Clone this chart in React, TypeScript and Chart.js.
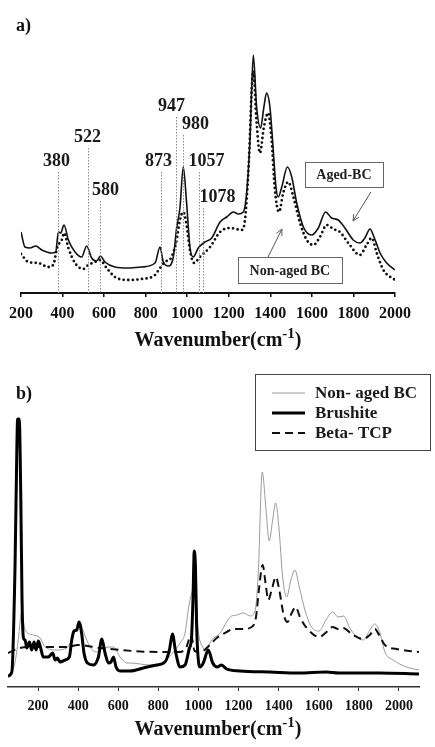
import { useEffect, useRef } from "react";
import { Chart, registerables } from "chart.js";

Chart.register(...registerables);

const SERIF = '"Liberation Serif", "Times New Roman", serif';

// ---- Panel a: Raman spectra of aged and non-aged bone char ----
const agedWavenumber = [200, 219, 243, 271, 300, 348, 367, 380, 391, 407, 428, 460, 492, 516, 540, 564, 582, 604, 652, 716, 781, 845, 869, 885, 909, 933, 949, 965, 981, 997, 1013, 1029, 1053, 1085, 1118, 1158, 1190, 1222, 1246, 1270, 1286, 1302, 1318, 1334, 1353, 1369, 1382, 1398, 1414, 1427, 1438, 1455, 1482, 1503, 1527, 1559, 1599, 1631, 1666, 1695, 1727, 1759, 1799, 1831, 1855, 1880, 1899, 1928, 1960, 2000];
const agedIntensity = [61, 46, 45, 47, 43, 40, 41, 61, 60, 68, 53, 41, 36, 47, 35, 32, 37, 31, 26, 25, 26, 30, 46, 31, 27, 36, 65, 85, 126, 90, 46, 36, 45, 51, 55, 71, 76, 81, 79, 81, 100, 153, 238, 186, 165, 186, 200, 186, 143, 106, 96, 106, 126, 116, 90, 66, 58, 65, 81, 75, 73, 65, 53, 50, 55, 64, 56, 40, 30, 23];

const nonAgedWavenumberA = [200, 235, 283, 331, 355, 375, 396, 408, 428, 460, 500, 524, 556, 580, 612, 652, 716, 781, 845, 869, 893, 925, 949, 965, 981, 997, 1013, 1033, 1061, 1110, 1158, 1206, 1262, 1278, 1294, 1318, 1334, 1350, 1369, 1390, 1406, 1422, 1442, 1462, 1486, 1511, 1543, 1575, 1607, 1639, 1671, 1703, 1735, 1775, 1831, 1863, 1888, 1912, 1944, 2000];
const nonAgedIntensityA = [39, 31, 30, 26, 28, 46, 53, 60, 45, 30, 24, 28, 31, 33, 25, 16, 13, 14, 18, 25, 31, 36, 53, 73, 81, 68, 43, 30, 36, 46, 61, 65, 63, 73, 120, 222, 170, 140, 166, 180, 153, 103, 81, 100, 111, 96, 70, 53, 48, 56, 68, 64, 61, 50, 38, 48, 55, 40, 23, 13];

const ticksA = [200, 400, 600, 800, 1000, 1200, 1400, 1600, 1800, 2000];

// Band assignments marked on panel a
const bandPositions = [380, 522, 580, 873, 947, 980, 1057, 1078];

// ---- Panel b: reference spectra ----
const nonAgedWavenumberB = [50, 80, 100, 118, 135, 177, 210, 235, 293, 343, 368, 393, 409, 429, 459, 493, 526, 576, 609, 643, 659, 758, 825, 875, 908, 933, 949, 966, 980, 1000, 1024, 1035, 1066, 1108, 1158, 1191, 1224, 1258, 1283, 1299, 1318, 1337, 1353, 1370, 1385, 1401, 1420, 1440, 1461, 1481, 1503, 1531, 1564, 1602, 1636, 1669, 1697, 1725, 1752, 1789, 1822, 1855, 1880, 1905, 1930, 1971, 2038, 2100];
const nonAgedIntensityB = [12, 20, 45, 74, 57, 52, 49, 40, 37, 39, 47, 60, 64, 54, 40, 35, 39, 40, 30, 24, 24, 22, 25, 35, 44, 54, 77, 94, 100, 54, 39, 37, 47, 54, 70, 72, 74, 71, 77, 117, 215, 177, 146, 167, 184, 160, 110, 90, 107, 117, 100, 77, 60, 56, 67, 75, 70, 71, 60, 50, 47, 57, 63, 54, 35, 27, 20, 17];

const brushiteWavenumber = [50, 69, 85, 94, 98, 106, 114, 120, 127, 135, 144, 157, 168, 180, 190, 201, 213, 226, 251, 273, 285, 296, 310, 335, 356, 368, 379, 393, 404, 417, 429, 446, 476, 501, 518, 534, 551, 564, 576, 589, 609, 659, 725, 792, 833, 855, 870, 887, 908, 933, 955, 965, 973, 979, 985, 991, 998, 1008, 1024, 1049, 1071, 1094, 1115, 1140, 1207, 1356, 1500, 1637, 1700, 1900, 2100];
const brushiteIntensity = [11, 15, 120, 237, 268, 268, 187, 87, 49, 47, 39, 45, 37, 45, 37, 46, 39, 30, 30, 34, 27, 29, 25, 27, 30, 47, 56, 57, 65, 54, 34, 24, 22, 30, 48, 34, 24, 25, 30, 20, 16, 16, 19, 22, 25, 37, 53, 34, 20, 22, 39, 48, 90, 136, 120, 60, 30, 20, 24, 37, 24, 20, 22, 18, 16, 15, 14, 15, 14, 14, 13];

const betaTcpWavenumber = [50, 110, 177, 343, 400, 510, 675, 800, 908, 940, 963, 981, 1010, 1057, 1091, 1141, 1174, 1224, 1265, 1287, 1303, 1320, 1337, 1348, 1365, 1386, 1403, 1423, 1443, 1465, 1485, 1506, 1540, 1602, 1639, 1669, 1697, 1722, 1764, 1822, 1855, 1880, 1901, 1930, 1988, 2100];
const betaTcpIntensity = [34, 39, 40, 40, 42, 39, 36, 35, 35, 40, 52, 36, 35, 42, 49, 55, 58, 58, 60, 70, 100, 122, 100, 87, 97, 110, 97, 74, 65, 74, 80, 70, 59, 50, 55, 60, 58, 59, 53, 48, 52, 58, 52, 42, 38, 35];

const ticksB = [200, 400, 600, 800, 1000, 1200, 1400, 1600, 1800, 2000];

const legendNames = ["Non- aged BC", "Brushite", "Beta- TCP"];

const toPoints = (xs: number[], ys: number[]) => xs.map((x, i) => ({ x, y: ys[i] }));

// label placement for the band markers: label level (intensity units) and a px nudge
const bandLabelLayout = [
  { level: 132, dx: -2 },
  { level: 156, dx: -1 },
  { level: 103, dx: 5 },
  { level: 132, dx: -3 },
  { level: 187, dx: -5 },
  { level: 169, dx: 12 },
  { level: 132, dx: 7 },
  { level: 96, dx: 14 },
];

function drawAxisTitle(ctx: CanvasRenderingContext2D, cx: number, baseline: number) {
  const main = "Wavenumber(cm";
  const sup = "-1";
  const close = ")";
  const big = `bold 20px ${SERIF}`;
  const small = `bold 15px ${SERIF}`;
  ctx.save();
  ctx.fillStyle = "#111";
  ctx.textAlign = "left";
  ctx.textBaseline = "alphabetic";
  ctx.font = big;
  const w1 = ctx.measureText(main).width;
  const w3 = ctx.measureText(close).width;
  ctx.font = small;
  const w2 = ctx.measureText(sup).width;
  let x = cx - (w1 + w2 + w3) / 2;
  ctx.font = big;
  ctx.fillText(main, x, baseline);
  x += w1;
  ctx.font = small;
  ctx.fillText(sup, x, baseline - 8);
  x += w2;
  ctx.font = big;
  ctx.fillText(close, x, baseline);
  ctx.restore();
}

function drawArrow(ctx: CanvasRenderingContext2D, x1: number, y1: number, x2: number, y2: number) {
  const ang = Math.atan2(y2 - y1, x2 - x1);
  const head = 7;
  ctx.beginPath();
  ctx.moveTo(x1, y1);
  ctx.lineTo(x2, y2);
  ctx.moveTo(x2 - head * Math.cos(ang - 0.45), y2 - head * Math.sin(ang - 0.45));
  ctx.lineTo(x2, y2);
  ctx.lineTo(x2 - head * Math.cos(ang + 0.45), y2 - head * Math.sin(ang + 0.45));
  ctx.stroke();
}

function drawCallout(
  ctx: CanvasRenderingContext2D,
  text: string,
  cx: number,
  cy: number,
  w: number,
  h: number
) {
  ctx.save();
  ctx.fillStyle = "#fff";
  ctx.fillRect(cx - w / 2, cy - h / 2, w, h);
  ctx.strokeStyle = "#666";
  ctx.lineWidth = 1;
  ctx.strokeRect(Math.round(cx - w / 2) + 0.5, Math.round(cy - h / 2) + 0.5, w, h);
  ctx.fillStyle = "#222";
  ctx.font = `bold 14px ${SERIF}`;
  ctx.textAlign = "center";
  ctx.textBaseline = "middle";
  ctx.fillText(text, cx, cy + 1);
  ctx.restore();
}

const panelAOverlay = {
  id: "panelAOverlay",
  afterDatasetsDraw(chart: any) {
    const { ctx, scales } = chart;
    const xs = scales.x;
    const ys = scales.y;
    ctx.save();
    // band marker lines and labels
    bandPositions.forEach((wn, i) => {
      const px = Math.round(xs.getPixelForValue(wn)) + 0.5;
      const labelY = ys.getPixelForValue(bandLabelLayout[i].level);
      ctx.strokeStyle = "#8a8a8a";
      ctx.lineWidth = 1;
      ctx.setLineDash([1.5, 1.5]);
      ctx.beginPath();
      ctx.moveTo(px, labelY + 11);
      ctx.lineTo(px, ys.getPixelForValue(0));
      ctx.stroke();
      ctx.setLineDash([]);
      ctx.fillStyle = "#1a1a1a";
      ctx.font = `bold 18px ${SERIF}`;
      ctx.textAlign = "center";
      ctx.textBaseline = "middle";
      ctx.fillText(String(wn), px + bandLabelLayout[i].dx, labelY);
    });
    // callouts
    ctx.strokeStyle = "#555";
    ctx.lineWidth = 1;
    drawArrow(ctx, xs.getPixelForValue(1884), ys.getPixelForValue(101), xs.getPixelForValue(1798), ys.getPixelForValue(72));
    drawArrow(ctx, xs.getPixelForValue(1389), ys.getPixelForValue(36), xs.getPixelForValue(1456), ys.getPixelForValue(64));
    drawCallout(ctx, "Aged-BC", xs.getPixelForValue(1754), ys.getPixelForValue(118.5), 78, 25);
    drawCallout(ctx, "Non-aged BC", xs.getPixelForValue(1494), ys.getPixelForValue(23), 104, 26);
    ctx.restore();
  },
  afterDraw(chart: any) {
    const { ctx } = chart;
    ctx.save();
    ctx.fillStyle = "#111";
    ctx.font = `bold 18px ${SERIF}`;
    ctx.textAlign = "left";
    ctx.textBaseline = "middle";
    ctx.fillText("a)", 16, 26);
    ctx.restore();
    drawAxisTitle(ctx, 218, 346);
  },
};

const panelBOverlay = {
  id: "panelBOverlay",
  afterDraw(chart: any) {
    const { ctx } = chart;
    ctx.save();
    ctx.fillStyle = "#111";
    ctx.font = `bold 18px ${SERIF}`;
    ctx.textAlign = "left";
    ctx.textBaseline = "middle";
    ctx.fillText("b)", 16, 34);

    // legend box
    const bx = 255;
    const by = 14;
    const bw = 175;
    const bh = 76;
    ctx.fillStyle = "#fff";
    ctx.fillRect(bx, by, bw, bh);
    ctx.strokeStyle = "#444";
    ctx.lineWidth = 1;
    ctx.strokeRect(bx + 0.5, by + 0.5, bw, bh);
    const rows = [by + 19, by + 39, by + 59];
    chart.data.datasets.forEach((ds: any, i: number) => {
      const y = rows[i];
      ctx.strokeStyle = ds.borderColor;
      ctx.lineWidth = ds.borderWidth;
      ctx.setLineDash(ds.borderDash || []);
      ctx.beginPath();
      ctx.moveTo(bx + 17, y);
      ctx.lineTo(bx + 50, y);
      ctx.stroke();
      ctx.setLineDash([]);
      ctx.fillStyle = "#1a1a1a";
      ctx.font = `bold 17px ${SERIF}`;
      ctx.textBaseline = "middle";
      ctx.fillText(legendNames[i], bx + 60, y + 1);
    });
    ctx.restore();
    drawAxisTitle(ctx, 218, 375);
  },
};

const fixedTicks = (values: number[]) => (scale: any) => {
  scale.ticks = values.map((v) => ({ value: v }));
};

const plainNumber = (v: any) => String(v);

function PanelA() {
  const ref = useRef<HTMLCanvasElement | null>(null);
  useEffect(() => {
    if (!ref.current) return;
    const chart = new Chart(ref.current, {
      type: "line",
      data: {
        datasets: [
          {
            label: "Aged-BC",
            data: toPoints(agedWavenumber, agedIntensity),
            borderColor: "#111",
            borderWidth: 1.6,
            pointRadius: 0,
            cubicInterpolationMode: "monotone",
            fill: false,
          },
          {
            label: "Non-aged BC",
            data: toPoints(nonAgedWavenumberA, nonAgedIntensityA),
            borderColor: "#111",
            borderWidth: 2.8,
            borderDash: [0, 4.6],
            borderCapStyle: "round",
            pointRadius: 0,
            cubicInterpolationMode: "monotone",
            fill: false,
          },
        ],
      },
      options: {
        responsive: false,
        animation: false,
        layout: { padding: { left: 21, right: 40, top: 43, bottom: 0 } },
        plugins: { legend: { display: false }, tooltip: { enabled: false } },
        scales: {
          x: {
            type: "linear",
            min: 200,
            max: 2000,
            afterBuildTicks: fixedTicks(ticksA),
            afterFit: (s: any) => {
              s.height = 57;
            },
            border: { display: true, color: "#111", width: 2 },
            grid: { drawOnChartArea: false, drawTicks: true, tickLength: 4, color: "#111", lineWidth: 1.5 },
            ticks: {
              color: "#111",
              padding: 7,
              maxRotation: 0,
              autoSkip: false,
              callback: plainNumber,
              font: { family: SERIF, size: 16, weight: "bold" },
            },
          },
          y: { display: false, min: 0, max: 250 },
        },
      },
      plugins: [panelAOverlay],
    } as any);
    return () => chart.destroy();
  }, []);
  return <canvas ref={ref} width={435} height={350} style={{ position: "absolute", left: 0, top: 0 }} />;
}

function PanelB() {
  const ref = useRef<HTMLCanvasElement | null>(null);
  useEffect(() => {
    if (!ref.current) return;
    const chart = new Chart(ref.current, {
      type: "line",
      data: {
        datasets: [
          {
            label: legendNames[0],
            data: toPoints(nonAgedWavenumberB, nonAgedIntensityB),
            borderColor: "#9a9a9a",
            borderWidth: 1,
            pointRadius: 0,
            cubicInterpolationMode: "monotone",
            fill: false,
            order: 3,
          },
          {
            label: legendNames[1],
            data: toPoints(brushiteWavenumber, brushiteIntensity),
            borderColor: "#000",
            borderWidth: 3,
            pointRadius: 0,
            cubicInterpolationMode: "monotone",
            fill: false,
            order: 1,
          },
          {
            label: legendNames[2],
            data: toPoints(betaTcpWavenumber, betaTcpIntensity),
            borderColor: "#111",
            borderWidth: 2,
            borderDash: [8, 5],
            pointRadius: 0,
            cubicInterpolationMode: "monotone",
            fill: false,
            order: 2,
          },
        ],
      },
      options: {
        responsive: false,
        animation: false,
        layout: { padding: { left: 8, right: 16, top: 56, bottom: 0 } },
        plugins: { legend: { display: false }, tooltip: { enabled: false } },
        scales: {
          x: {
            type: "linear",
            min: 50,
            max: 2100,
            afterBuildTicks: fixedTicks(ticksB),
            afterFit: (s: any) => {
              s.height = 60;
            },
            border: { display: true, color: "#333", width: 1.5 },
            grid: { drawOnChartArea: false, drawTicks: true, tickLength: 4, color: "#333", lineWidth: 1 },
            ticks: {
              color: "#111",
              padding: 7,
              maxRotation: 0,
              autoSkip: false,
              callback: plainNumber,
              font: { family: SERIF, size: 14, weight: "bold" },
            },
          },
          y: { display: false, min: 0, max: 271 },
        },
      },
      plugins: [panelBOverlay],
    } as any);
    return () => chart.destroy();
  }, []);
  return <canvas ref={ref} width={435} height={387} style={{ position: "absolute", left: 0, top: 360 }} />;
}

export default function App() {
  return (
    <div style={{ position: "absolute", left: 0, top: 0, width: 435, height: 747, background: "#fff" }}>
      <PanelA />
      <PanelB />
    </div>
  );
}
